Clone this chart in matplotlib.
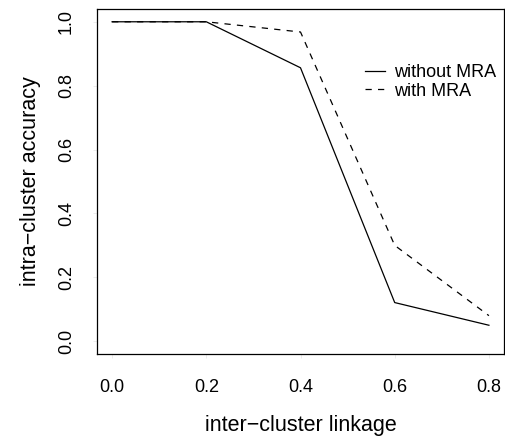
# intra-cluster accuracy vs inter-cluster linkage, R base-plot look
import matplotlib
matplotlib.use("Agg")
import matplotlib.pyplot as plt

plt.rcParams['font.family'] = ['Liberation Sans', 'DejaVu Sans']
plt.rcParams['lines.scale_dashes'] = False

# --- data ---
linkage = [0.0, 0.2, 0.4, 0.6, 0.8]
acc_without = [1.0, 1.0, 0.856, 0.121, 0.05]
acc_with = [1.0, 1.0, 0.968, 0.30, 0.08]
series_labels = ["without MRA", "with MRA"]
xticks = [0.0, 0.2, 0.4, 0.6, 0.8]
yticks = [0.0, 0.2, 0.4, 0.6, 0.8, 1.0]

fig = plt.figure(figsize=(5.06, 4.38), dpi=100)
ax = fig.add_axes([97 / 506, 84 / 438, 407 / 506, 345 / 438])

ax.plot(linkage, acc_without, color='black', lw=0.9, label=series_labels[0])
ax.plot(linkage, acc_with, color='black', lw=0.9, linestyle=(0, (4.5, 4.5)),
        label=series_labels[1])

ax.set_xlim(-0.032, 0.832)
ax.set_ylim(-0.04, 1.04)
ax.set_xticks(xticks)
ax.set_yticks(yticks)
ax.set_xticklabels([f"{v:.1f}" for v in xticks])
ax.set_yticklabels([f"{v:.1f}" for v in yticks], rotation=90, va='center')
# ticks are barely visible in the original
ax.tick_params(length=3, width=0.5, color='#e4e4e4', labelsize=13, pad=15)
ax.tick_params(axis='y', pad=13)

for s in ax.spines.values():
    s.set_linewidth(0.9)
    s.set_color('black')

ax.set_xlabel("inter\u2212cluster linkage", fontsize=15.5, labelpad=14)
ax.set_ylabel("intra\u2212cluster accuracy", fontsize=15.5, labelpad=12)

leg = ax.legend(loc='upper left', bbox_to_anchor=(0.64, 0.862), frameon=False,
                fontsize=13, handlelength=1.1, handletextpad=0.5,
                labelspacing=0.1, borderaxespad=0)

fig.savefig("out.png", dpi=100)
